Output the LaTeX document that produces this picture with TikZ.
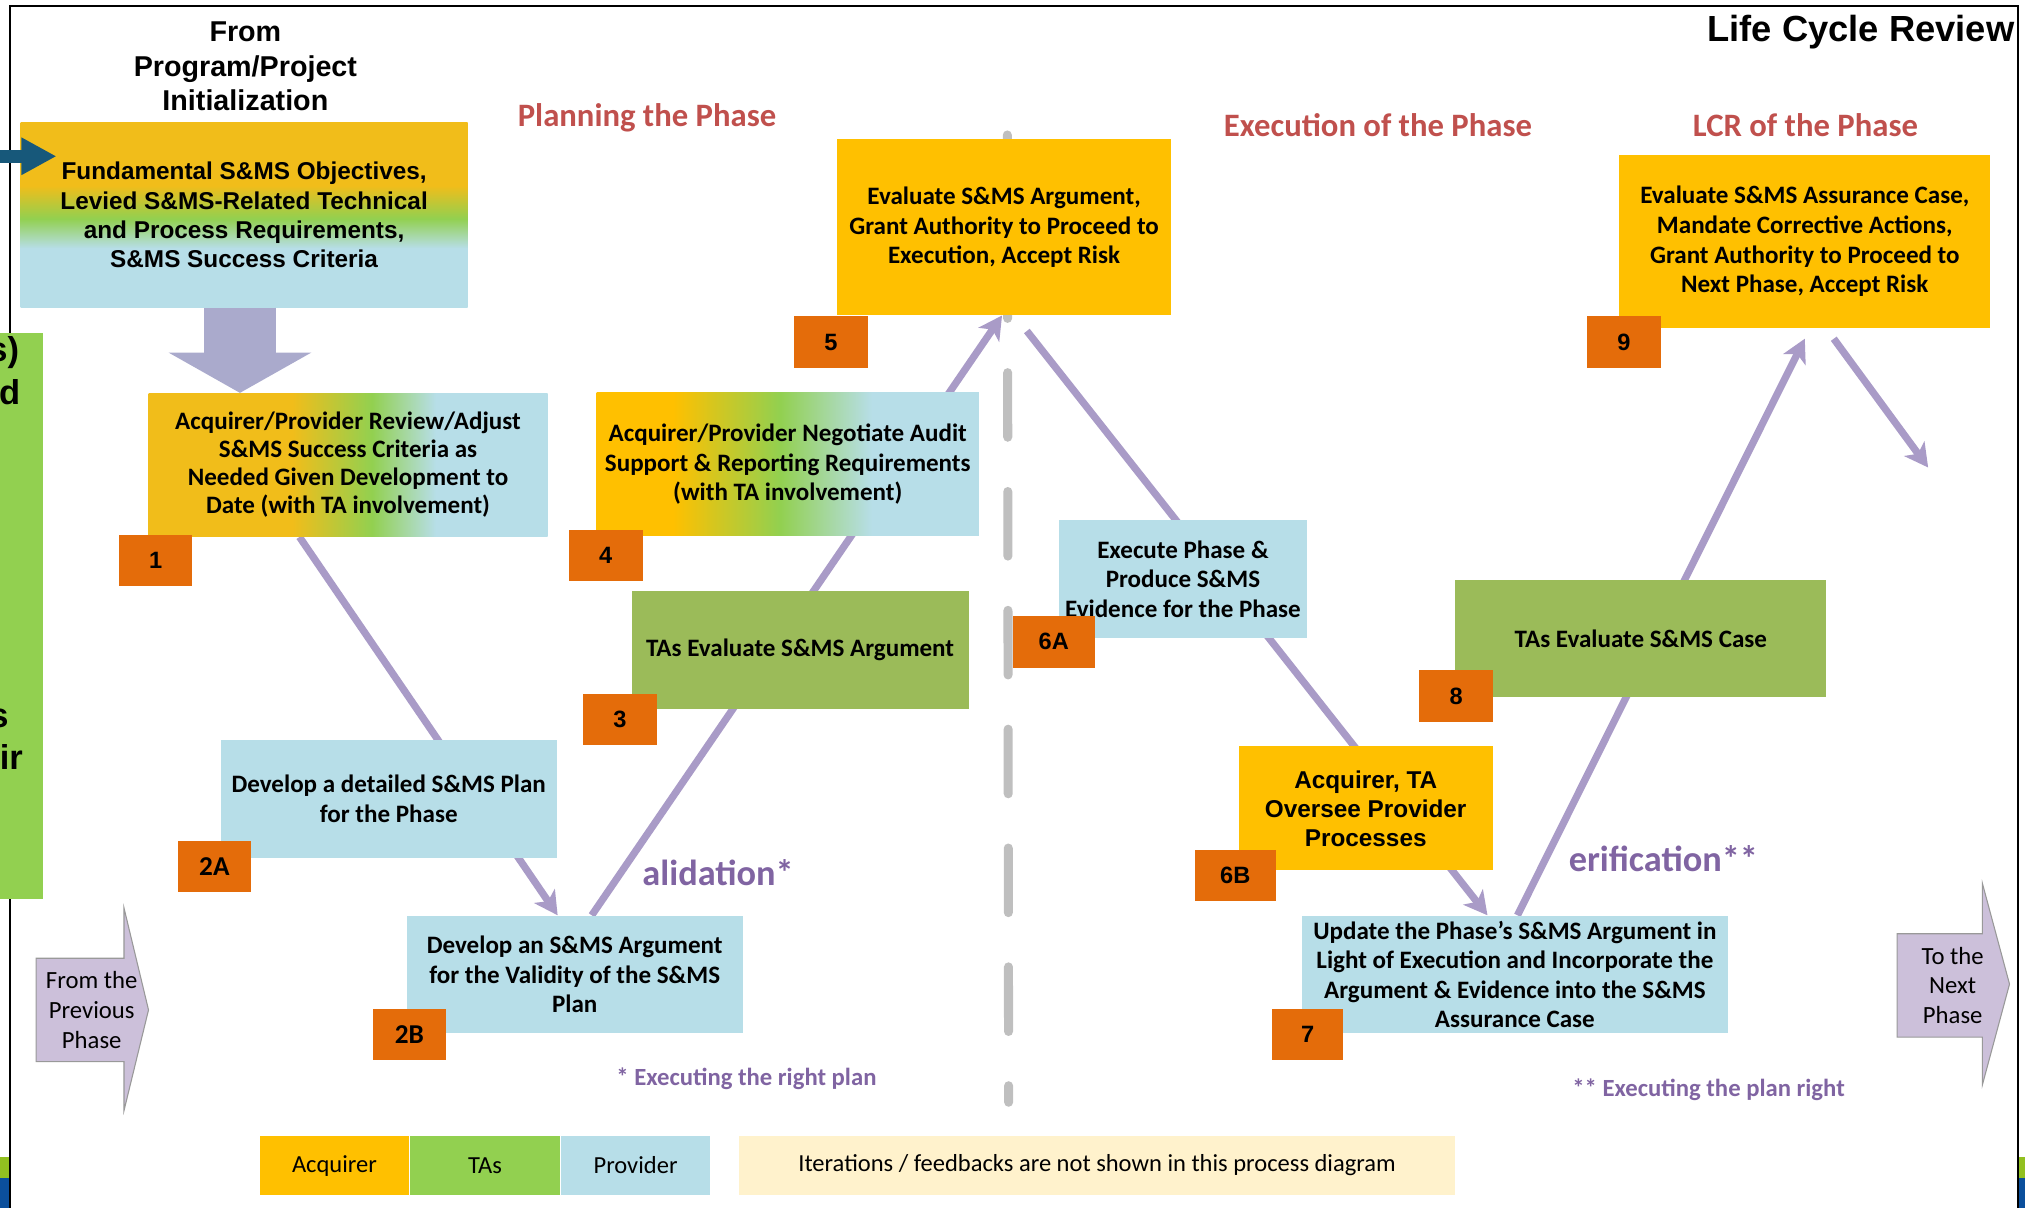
\documentclass[tikz,border=0pt]{standalone}
\usepackage{fontspec}
\setmainfont{Carlito}
\newfontfamily\arialfont{Liberation Sans}
\usetikzlibrary{arrows.meta, positioning}

\definecolor{acqOrange}{HTML}{FFC000}
\definecolor{acqGold}{HTML}{F1BD1A}
\definecolor{taGreen}{HTML}{92D050}
\definecolor{taOlive}{HTML}{9BBB59}
\definecolor{provBlue}{HTML}{B7DEE8}
\definecolor{badgeOrange}{HTML}{E46C0A}
\definecolor{headRed}{HTML}{C0504D}
\definecolor{notePurple}{HTML}{8064A2}
\definecolor{flowLilac}{HTML}{A99BC7}
\definecolor{blockLilac}{HTML}{CCC0DA}
\definecolor{downLilac}{HTML}{AAAACC}
\definecolor{inBlue}{HTML}{17587A}
\definecolor{noteCream}{HTML}{FFF2CC}
\definecolor{dividerGray}{HTML}{BFBFBF}
\definecolor{slideGreen}{HTML}{92C020}
\definecolor{slideBlue}{HTML}{0B4F9C}

% colour fades of the mixed boxes
\pgfdeclareverticalshading{fundfade}{100bp}{color(0bp)=(provBlue); color(41bp)=(provBlue);
  color(49bp)=(taGreen); color(58bp)=(acqGold); color(100bp)=(acqGold)}
\pgfdeclarehorizontalshading{reviewfade}{100bp}{color(0bp)=(acqGold); color(43bp)=(acqGold);
  color(53bp)=(taGreen); color(61bp)=(provBlue); color(100bp)=(provBlue)}
\pgfdeclarehorizontalshading{auditfade}{100bp}{color(0bp)=(acqOrange); color(35bp)=(acqOrange);
  color(49bp)=(taGreen); color(61bp)=(provBlue); color(100bp)=(provBlue)}

\pgfdeclarelayer{back}
\pgfsetlayers{back,main}

\begin{document}
\begin{tikzpicture}[
    x=0.025cm, y=-0.025cm,
    sz/.style 2 args={minimum width=#1*0.025cm, minimum height=#2*0.025cm},
    box/.style={rectangle, inner sep=0pt, align=center,
                font=\bfseries\fontsize{13.8}{16.3}\selectfont},
    acq/.style={box, fill=acqOrange},
    tas/.style={box, fill=taOlive},
    prov/.style={box, fill=provBlue},
    badge/.style={rectangle, fill=badgeOrange, inner sep=0pt, sz={57}{40},
                  font=\arialfont\bfseries\fontsize{13}{13}\selectfont},
    phasehead/.style={text=headRed, font=\bfseries\fontsize{18}{20}\selectfont},
    vvlabel/.style={text=notePurple, font=\bfseries\fontsize{20}{22}\selectfont},
    footnote/.style={text=notePurple, font=\bfseries\fontsize{13.6}{15}\selectfont},
    flow/.style={draw=flowLilac, line width=0.14cm,
                 -{Stealth[length=0.45cm, width=0.48cm, inset=0.12cm]}},
    legend/.style={rectangle, inner sep=0pt, sz={116}{45},
                   font=\fontsize{13.5}{15}\selectfont},
    phasearrow/.style={fill=blockLilac, draw=gray!80, line width=0.6pt},
    phasetext/.style={align=center, font=\fontsize{13.6}{16.3}\selectfont}
  ]
    \useasboundingbox (0,0) rectangle (1568,935);

    % slide frame
    \fill[slideGreen] (0,896) rectangle (7.7,912);
    \fill[slideBlue] (0,912) rectangle (7.7,935);
    \fill[slideGreen] (1562,896) rectangle (1568,912);
    \fill[slideBlue] (1562,912) rectangle (1568,935);
    \draw[line width=1.1pt] (7.7,935) -- (7.7,4.6) -- (1562.5,4.6) -- (1562.5,935);

    % cut-off box on the left
    \fill[taGreen] (0,258) rectangle (33,696);
    \begin{scope}
      \clip (0,258) rectangle (33,696);
      \tikzset{cut/.style={anchor=east, inner sep=0pt,
                           font=\arialfont\bfseries\fontsize{19}{19}\selectfont}}
      \node[cut] (cuta) at (15,273) {s)};
      \node[cut] (cutb) at (16,304) {d};
      \node[cut] (cutc) at (7,556) {s};
      \node[cut] (cutd) at (18,586) {ir};
    \end{scope}

    \node[align=center, font=\arialfont\bfseries\fontsize{15.8}{19}\selectfont] (origin)
      at (190,51.5) {From\\Program/Project\\Initialization};
    \node[anchor=east, inner sep=0pt, font=\arialfont\bfseries\fontsize{20}{22}\selectfont] (lcr)
      at (1560,25) {Life Cycle Review};

    \node[phasehead] (hplan) at (501,91) {Planning the Phase};
    \node[phasehead] (hexec) at (1067,97) {Execution of the Phase};
    \node[phasehead] (hlcr) at (1398,97) {LCR of the Phase};

    % planning
    \node[box, shade, shading=fundfade, sz={346}{143},
          font=\arialfont\bfseries\fontsize{13.4}{16.1}\selectfont] (fund) at (189,166.5)
      {Fundamental S\&MS Objectives,\\Levied S\&MS-Related Technical\\and Process Requirements,\\S\&MS Success Criteria};
    \node[box, shade, shading=reviewfade, sz={309}{111},
          font=\bfseries\fontsize{13.8}{15.4}\selectfont] (b1) at (269.5,360)
      {Acquirer/Provider Review/Adjust\\S\&MS Success Criteria as\\Needed Given Development to\\Date (with TA involvement)};
    \node[prov, sz={260}{91}] (b2a) at (301,618.5) {Develop a detailed S\&MS Plan\\for the Phase};
    \node[prov, sz={260}{91}] (b2b) at (445,754.5)
      {Develop an S\&MS Argument\\for the Validity of the S\&MS\\Plan};
    \node[tas, sz={261}{91}] (b3) at (619.5,503.5) {TAs Evaluate S\&MS Argument};
    \node[box, shade, shading=auditfade, sz={296}{111}] (b4) at (610,359.5)
      {Acquirer/Provider Negotiate Audit\\Support \& Reporting Requirements\\(with TA involvement)};
    \node[acq, sz={259}{136}] (b5) at (777.5,176)
      {Evaluate S\&MS Argument,\\Grant Authority to Proceed to\\Execution, Accept Risk};

    % execution and review
    \node[prov, sz={192}{91}] (b6a) at (916,448.5) {Execute Phase \&\\Produce S\&MS\\Evidence for the Phase};
    \node[acq, sz={197}{96}, font=\arialfont\bfseries\fontsize{13.4}{16}\selectfont] (b6b)
      at (1057.5,626) {Acquirer, TA\\Oversee Provider\\Processes};
    \node[prov, sz={330}{91}] (b7) at (1173,754.5)
      {Update the Phase’s S\&MS Argument in\\Light of Execution and Incorporate the\\Argument \& Evidence into the S\&MS\\Assurance Case};
    \node[tas, sz={287}{91}] (b8) at (1270.5,494.5) {TAs Evaluate S\&MS Case};
    \node[acq, sz={287}{134}] (b9) at (1397.5,187)
      {Evaluate S\&MS Assurance Case,\\Mandate Corrective Actions,\\Grant Authority to Proceed to\\Next Phase, Accept Risk};
    \coordinate (exit) at (1493,362);

    % step numbers
    \node[badge] (n1) at (120.5,434) {1};
    \node[badge, font=\bfseries\fontsize{15}{15}\selectfont] (n2a) at (166,671) {2A};
    \node[badge, font=\bfseries\fontsize{15}{15}\selectfont] (n2b) at (317,801) {2B};
    \node[badge] (n3) at (480,557) {3};
    \node[badge] (n4) at (469,430) {4};
    \node[badge] (n5) at (643.5,265) {5};
    \node[badge, sz={64}{40}] (n6a) at (816,497) {6A};
    \node[badge, sz={63}{40}] (n6b) at (956.5,678) {6B};
    \node[badge, sz={55}{40}] (n7) at (1012.5,801) {7};
    \node[badge] (n8) at (1127.5,539) {8};
    \node[badge] (n9) at (1257.5,265) {9};

    \begin{pgfonlayer}{back}
      \draw[dividerGray, line width=0.175cm, line cap=round, dash pattern=on 1.25cm off 1.05cm]
        (780,104.5) -- (781,853.5);
      \draw[flow] ([xshift=-0.94cm]b1.south) -- ([xshift=-0.33cm]b2b.north);
      \draw[flow] ([xshift=0.33cm]b2b.north) -- ([xshift=-0.04cm]b5.south);
      \draw[flow] ([xshift=0.44cm, yshift=-0.3cm]b5.south) -- ([xshift=-0.53cm]b7.north);
      \draw[flow] ([xshift=0.05cm]b7.north) -- ([yshift=-0.2cm]b9.south);
      \draw[flow] ([xshift=0.56cm, yshift=-0.2cm]b9.south) -- (exit);
    \end{pgfonlayer}

    \draw[downLilac, line width=1.4cm, -{Triangle[length=0.78cm, width=2.73cm]}]
      ([xshift=-0.08cm]fund.south) -- ([xshift=-0.08cm]fund.south |- b1.north);
    \coordinate (inflow) at (0,121);
    \draw[inBlue, line width=0.25cm, -{Triangle[length=0.68cm, width=0.68cm]}]
      (inflow) -- ([xshift=0.7cm]fund.west |- inflow);

    % phase in / out
    \draw[phasearrow] (28,742) -- (96,742) -- (96,703) -- (115,782) -- (96,860) -- (96,822) -- (28,822) -- cycle;
    \node[phasetext] (prevph) at (71,782) {From the\\Previous\\Phase};
    \draw[phasearrow] (1469,723) -- (1535,723) -- (1535,684) -- (1556,762) -- (1535,840) -- (1535,803) -- (1469,803) -- cycle;
    \node[phasetext] (nextph) at (1512,763) {To the\\Next\\Phase};

    \node[vvlabel] (valid) at (556,676) {alidation*};
    \node[vvlabel] (verif) at (1288,665) {erification**};
    \node[footnote] (fnvalid) at (578,835) {* Executing the right plan};
    \node[footnote] (fnverif) at (1323,844) {** Executing the plan right};

    % legend
    \node[legend, fill=acqOrange] (lgacq) at (259,902.5) {Acquirer};
    \node[legend, fill=taGreen, right=0pt of lgacq] (lgta) {TAs};
    \node[legend, fill=provBlue, right=0pt of lgta] (lgprov) {Provider};
    \node[legend, fill=noteCream, sz={555}{45}] (lgnote) at (849.5,902.5)
      {Iterations / feedbacks are not shown in this process diagram};
\end{tikzpicture}
\end{document}
